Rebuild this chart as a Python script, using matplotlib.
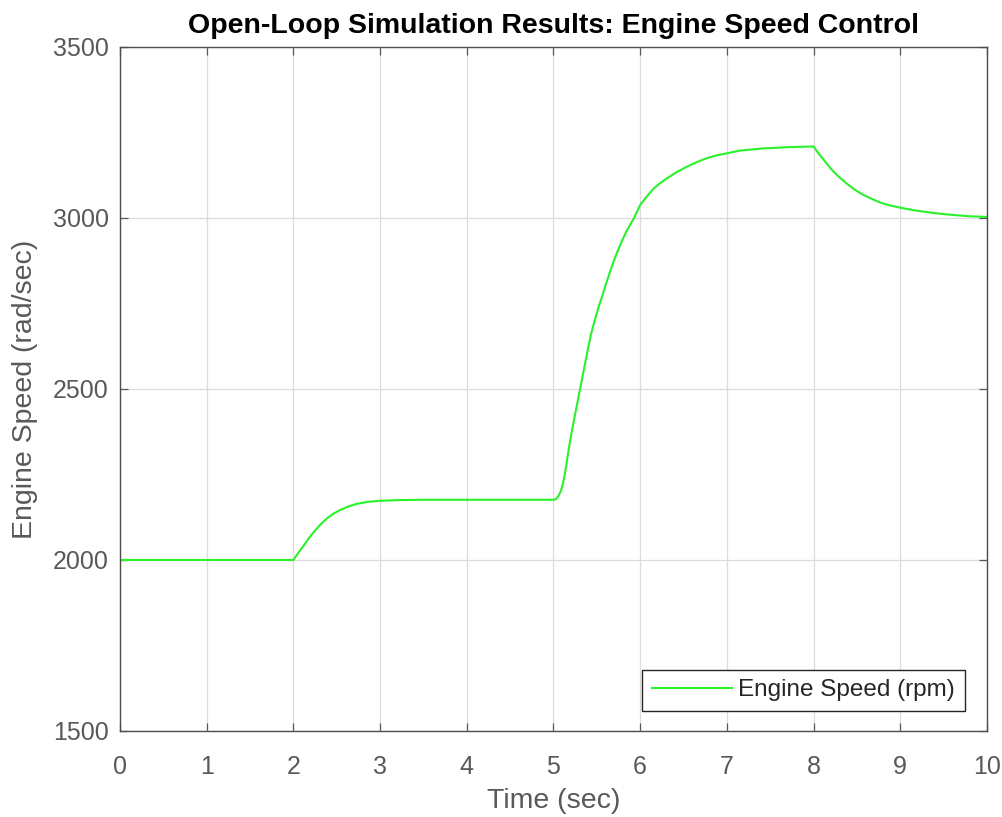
import matplotlib
matplotlib.use('Agg')
import matplotlib.pyplot as plt

# Values
time_sec = [0, 2.0, 2.06, 2.125, 2.18, 2.24, 2.31, 2.39, 2.46, 2.54, 2.63, 2.73, 2.86, 3.0,
            3.2, 3.5, 4.0, 4.5, 5.0, 5.03, 5.06, 5.09, 5.12, 5.146, 5.17, 5.2, 5.23, 5.26,
            5.29, 5.32, 5.35, 5.38, 5.43, 5.47, 5.51, 5.56, 5.61, 5.67, 5.73, 5.79, 5.85,
            5.93, 6.0, 6.08, 6.16, 6.23, 6.31, 6.42, 6.54, 6.65, 6.77, 6.88, 7.0, 7.15,
            7.4, 7.7, 8.0, 8.06, 8.13, 8.2, 8.28, 8.38, 8.48, 8.57, 8.67, 8.76, 8.86,
            9.0, 9.17, 9.4, 9.6, 9.8, 10.0]
engine_speed = [2000, 2000, 2022, 2044, 2064, 2083, 2103, 2122, 2135, 2146, 2156, 2164, 2170, 2173,
                2175, 2176, 2176, 2176, 2176, 2178, 2188, 2205, 2236, 2273, 2314, 2360, 2400, 2439,
                2478, 2517, 2556, 2594, 2657, 2695, 2731, 2770, 2810, 2856, 2897, 2933, 2965,
                3000, 3038, 3064, 3087, 3102, 3116, 3134, 3150, 3163, 3175, 3183, 3189, 3197,
                3203, 3207, 3209, 3188, 3166, 3144, 3123, 3101, 3082, 3068, 3056, 3046, 3038,
                3030, 3022, 3014, 3009, 3005, 3003]

x_ticks = list(range(0, 11))
y_ticks = [1500, 2000, 2500, 3000, 3500]

plt.rcParams['font.family'] = ['Liberation Sans', 'DejaVu Sans']

fig = plt.figure(figsize=(10.03, 8.17), dpi=100)
ax = fig.add_axes([0.1196, 0.1053, 0.8644, 0.8372])

ax.plot(time_sec, engine_speed, color='#2af22a', lw=1.5, label='Engine Speed (rpm)')

ax.set_xlim(0, 10)
ax.set_ylim(1500, 3500)
ax.set_xticks(x_ticks)
ax.set_yticks(y_ticks)
ax.grid(True, color='#dcdcdc', lw=0.9)
ax.set_axisbelow(True)

axis_col = '#4d4d4d'
for s in ax.spines.values():
    s.set_color(axis_col)
    s.set_linewidth(1.0)
ax.tick_params(direction='in', top=True, right=True, length=6, width=0.9,
               colors='#595959', labelsize=18)
ax.tick_params(axis='x', pad=17)
ax.tick_params(axis='y', pad=8)

ax.set_xlabel('Time (sec)', fontsize=20.5, color='#595959', labelpad=7)
ax.set_ylabel('Engine Speed (rad/sec)', fontsize=20.5, color='#595959', labelpad=11)
ax.set_title('Open-Loop Simulation Results: Engine Speed Control',
             fontsize=20.5, fontweight='bold', color='black', pad=10)

leg = ax.legend(loc='lower right', fontsize=17.5, fancybox=False, framealpha=1,
                edgecolor='#262626', borderpad=0.4, handlelength=3.3, handletextpad=0.25,
                borderaxespad=0, bbox_to_anchor=(0.9746, 0.029))
leg.get_frame().set_linewidth(1.0)
for t in leg.get_texts():
    t.set_color('#262626')

fig.savefig('out.png', dpi=100)
